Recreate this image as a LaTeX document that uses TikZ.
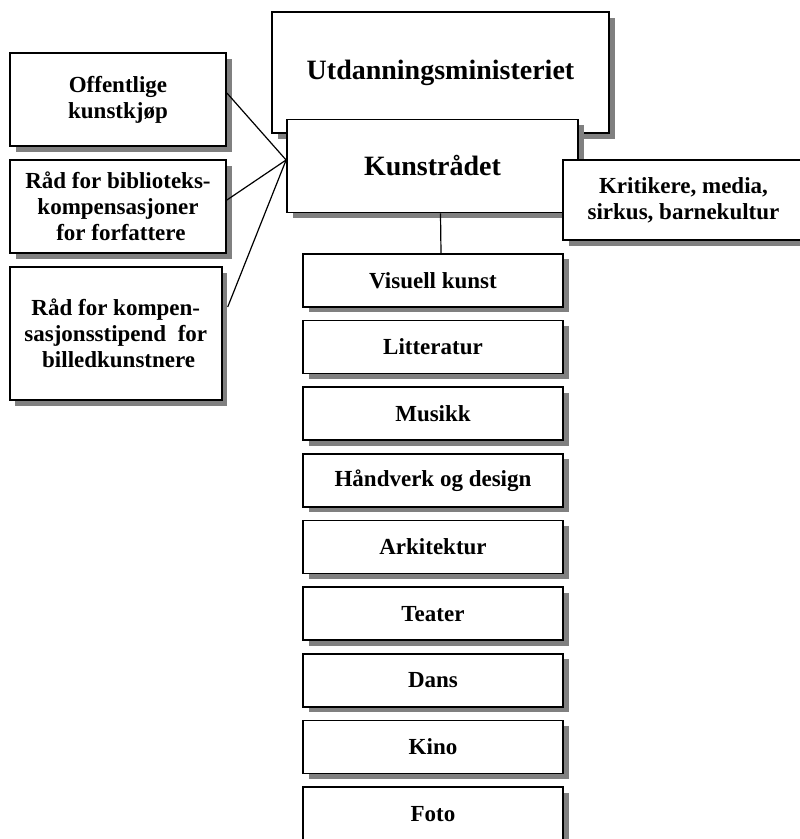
\documentclass[tikz,border=0pt]{standalone}
\usepackage{fontspec}
\setmainfont{Liberation Serif}
\usetikzlibrary{shadows}

\begin{document}
\begin{tikzpicture}[x=1pt, y=-1pt,
  office/.style={draw, line width=1.8pt, fill=white, rectangle, inner sep=0pt, align=center,
    font=\bfseries\fontsize{23}{26}\selectfont,
    drop shadow={shadow xshift=5.5pt, shadow yshift=-5.5pt, fill=black!50, opacity=1}},
  bigoffice/.style={office, font=\bfseries\fontsize{28}{32}\selectfont},
  link/.style={line width=1.2pt}]
% Page frame, same size as the reference
\clip (0,0) rectangle (800,839);

% Ministry and the council on top of it
\node[bigoffice, minimum width=337pt, minimum height=121pt] (utd) at (440.5, 72.5) {Utdanningsministeriet};
\node[bigoffice, minimum width=291pt, minimum height=93pt] (kunst) at (432.5, 166) {Kunstrådet};
\node[office, minimum width=241pt, minimum height=80pt] (krit) at (683.5, 200) {Kritikere, media,\\sirkus, barnekultur};

% Boards on the left
\node[office, minimum width=216pt, minimum height=93pt] (kjop) at (118, 99.5) {Offentlige\\kunstkjøp};
\node[office, minimum width=216pt, minimum height=93pt] (bib) at (118, 206.5) {Råd for biblioteks-\\kompensasjoner\\\ for forfattere};
\node[office, minimum width=212pt, minimum height=133pt] (komp) at (115.8, 333.5) {Råd for kompen-\\sasjonsstipend\ \ for\\\ billedkunstnere};

% Art form councils
\node[office, minimum width=260pt, minimum height=53pt] (vis) at (433, 280.3) {Visuell kunst};
\node[office, minimum width=260pt, minimum height=53pt] (lit) at (433, 347.0) {Litteratur};
\node[office, minimum width=260pt, minimum height=53pt] (mus) at (433, 413.7) {Musikk};
\node[office, minimum width=260pt, minimum height=53pt] (hand) at (433, 480.4) {Håndverk og design};
\node[office, minimum width=260pt, minimum height=53pt] (ark) at (433, 547.0) {Arkitektur};
\node[office, minimum width=260pt, minimum height=53pt] (teat) at (433, 613.7) {Teater};
\node[office, minimum width=260pt, minimum height=53pt] (dans) at (433, 680.4) {Dans};
\node[office, minimum width=260pt, minimum height=53pt] (kino) at (433, 747.0) {Kino};
\node[office, minimum width=260pt, minimum height=53pt] (foto) at (433, 813.7) {Foto};

% Connectors
\coordinate (hub) at ([yshift=6pt]kunst.west);
\draw[link] ([yshift=6.5pt]kjop.east) -- (hub);
\draw[link] ([yshift=6.5pt]bib.east) -- (hub);
\draw[link] ([xshift=5pt, yshift=26.5pt]komp.east) -- (hub);
\draw[link] ([xshift=8pt]kunst.south) -- ([xshift=8pt]vis.north);
\end{tikzpicture}
\end{document}
